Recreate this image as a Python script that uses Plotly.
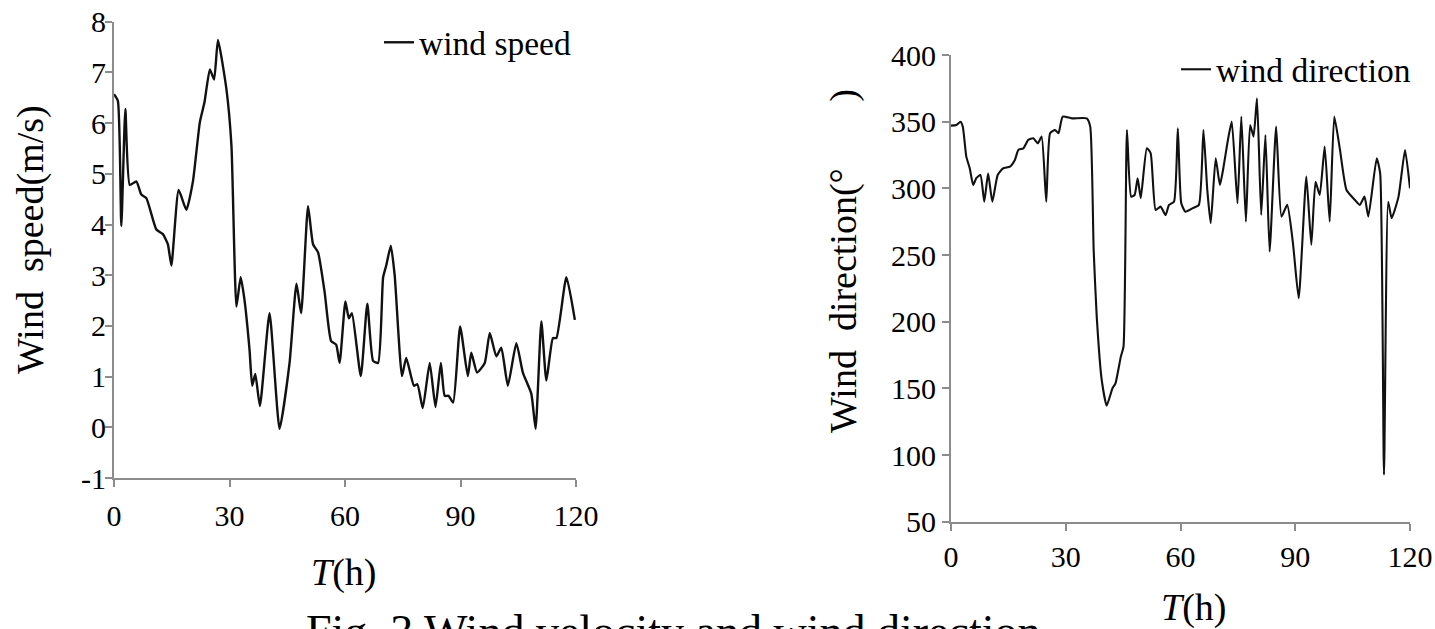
import plotly.graph_objects as go

W, H = 1435, 629

# ---- data ----
speed_t = [0, 1.0, 1.9, 2.95, 4.1, 5.8, 7.1, 8.4, 11.0, 12.7, 14.0, 14.9, 16.8, 18.8, 20.5, 22.3,
           23.5, 24.9, 26.0, 27.0, 29.2, 30.5, 31.8, 32.9, 33.9, 35.2, 35.9, 36.7, 37.9, 40.4,
           43.0, 45.6, 47.4, 48.6, 50.4, 51.7, 53.0, 54.7, 56.4, 57.7, 58.6, 60.1, 61.0, 61.8,
           64.1, 65.8, 67.3, 68.6, 69.9, 70.7, 71.9, 72.9, 74.8, 75.9, 77.9, 78.8, 80.2, 82.0,
           83.5, 84.9, 85.9, 86.9, 88.1, 89.9, 91.9, 92.8, 94.3, 96.3, 97.6, 99.3, 100.6, 102.3,
           104.5, 106.2, 108.4, 109.5, 111.0, 112.3, 114.0, 114.9, 117.5, 119.7]
speed_v = [6.57, 6.44, 3.97, 6.28, 4.78, 4.85, 4.59, 4.52, 3.9, 3.81, 3.61, 3.19, 4.68, 4.29, 4.85,
           6.02, 6.41, 7.06, 6.86, 7.64, 6.67, 5.56, 2.38, 2.96, 2.51, 1.53, 0.82, 1.05, 0.42,
           2.25, -0.03, 1.27, 2.83, 2.25, 4.36, 3.61, 3.45, 2.67, 1.70, 1.63, 1.27, 2.48, 2.15,
           2.25, 1.01, 2.44, 1.31, 1.27, 2.96, 3.19, 3.58, 3.0, 1.01, 1.37, 0.82, 0.85, 0.38,
           1.27, 0.40, 1.27, 0.62, 0.62, 0.49, 1.99, 1.01, 1.47, 1.08, 1.27, 1.86, 1.40, 1.57,
           0.82, 1.66, 1.08, 0.66, -0.03, 2.09, 0.92, 1.76, 1.76, 2.96, 2.12]

dir_t = [0, 1.4, 2.5, 3.1, 4.0, 4.9, 5.8, 6.6, 7.7, 8.7, 9.7, 10.8, 12.2, 13.6, 15.4, 16.7, 17.6,
         18.9, 20.2, 21.5, 22.7, 23.7, 24.9, 25.9, 27.2, 28.1, 29.2, 31.6, 35.5, 36.4, 37.3, 38.1,
         39.4, 40.7, 42.2, 43.0, 44.4, 45.1, 46.0, 47.1, 48.0, 48.8, 49.6, 51.2, 52.2, 53.5, 54.8,
         56.1, 57.0, 58.3, 59.3, 60.2, 61.3, 63.1, 64.8, 66.0, 67.0, 67.9, 69.2, 70.3, 71.2, 72.4,
         73.4, 74.9, 75.9, 77.1, 78.2, 79.1, 80.0, 81.1, 82.2, 83.3, 85.0, 86.4, 87.9, 89.4, 90.9,
         92.9, 94.2, 95.3, 96.4, 97.7, 99.0, 100.2, 101.7, 103.4, 105.6, 106.9, 108.1, 109.1,
         111.3, 112.2, 113.2, 114.3, 115.2, 117.0, 118.7, 120.0]
dir_v = [347, 347.5, 350, 346, 323.8, 315, 302.5, 307.6, 310, 290, 311.3, 290, 310, 315, 316.3,
         321.3, 328.8, 330, 336.3, 337.5, 333.8, 338.8, 290, 341.3, 343.8, 341.3, 353.8, 352.5,
         352.5, 346.3, 253.8, 203.8, 156.3, 137, 150, 153.8, 173.8, 181.3, 343.8, 293.8, 295,
         307.6, 292.6, 330, 326.3, 283.8, 286.3, 280, 287.6, 290, 345, 288.8, 282.5, 285, 287.6,
         343.8, 298.8, 273.8, 322.6, 302.6, 315.1, 336.3, 350, 288.8, 353.8, 275, 347.5, 338.8,
         367.5, 280, 340, 252.6, 346.3, 278.8, 287.6, 258.8, 217.6, 308.8, 257.6, 305, 295,
         331.3, 275, 353.8, 328.8, 298.8, 291.3, 287.6, 293.8, 278.8, 322.6, 311.3, 85.2, 290,
         277.6, 293.8, 328.8, 300]

x_ticks = [0, 30, 60, 90, 120]
speed_ticks = [-1, 0, 1, 2, 3, 4, 5, 6, 7, 8]
speed_tick_labels = ["-1", "0", "1", "2", "3", "4", "5", "6", "7", "8"]
dir_ticks = [50, 100, 150, 200, 250, 300, 350, 400]

FONT = "Liberation Serif, Times New Roman, serif"
AXIS_GRAY = "#8c8c8c"


def px(x):
    return x / W


def py(y):
    return 1 - y / H


fig = go.Figure()
fig.add_trace(go.Scatter(x=speed_t, y=speed_v, mode="lines", name="wind speed",
                         line=dict(color="#111111", width=2.4, shape="spline", smoothing=0.5),
                         xaxis="x", yaxis="y", legend="legend"))
fig.add_trace(go.Scatter(x=dir_t, y=dir_v, mode="lines", name="wind direction",
                         line=dict(color="#111111", width=2.1, shape="spline", smoothing=0.5),
                         xaxis="x2", yaxis="y2", legend="legend2"))

axis_common = dict(showgrid=False, zeroline=False, showline=True, linecolor=AXIS_GRAY,
                   linewidth=2, ticks="outside", ticklen=7, tickwidth=1.5, tickcolor=AXIS_GRAY,
                   automargin=False, ticklabeloverflow="allow",
                   tickfont=dict(family=FONT, size=30, color="black"))

fig.update_layout(
    width=W, height=H,
    margin=dict(l=0, r=0, t=0, b=0, autoexpand=False),
    paper_bgcolor="white", plot_bgcolor="white",
    xaxis=dict(domain=[px(114), px(576)], range=[0, 120], tickvals=x_ticks, anchor="y",
               ticklabelstandoff=3, **axis_common),
    yaxis=dict(domain=[py(478), py(21.7)], range=[-1, 8], tickvals=speed_ticks,
               ticktext=speed_tick_labels, anchor="x", ticklabelstandoff=-7, **axis_common),
    xaxis2=dict(domain=[px(951), px(1410)], range=[0, 120], tickvals=x_ticks, anchor="y2",
                ticklabelstandoff=0, **axis_common),
    yaxis2=dict(domain=[py(521.7), py(55)], range=[50, 400], tickvals=dir_ticks, anchor="x2",
                ticklabelstandoff=0, **axis_common),
    legend=dict(x=px(379), y=py(14), xanchor="left", yanchor="top",
                font=dict(family=FONT, size=33.5, color="black"), bgcolor="rgba(0,0,0,0)"),
    legend2=dict(x=px(1176), y=py(41), xanchor="left", yanchor="top",
                 font=dict(family=FONT, size=33.5, color="black"), bgcolor="rgba(0,0,0,0)"),
    showlegend=True,
)

title_font = dict(family=FONT, size=38, color="black")
fig.add_annotation(text="Wind  speed(m/s)", x=px(30), y=py(240), xref="paper", yref="paper",
                   xanchor="center", yanchor="middle",
                   textangle=-90, showarrow=False, font=title_font)
fig.add_annotation(text="Wind  direction(°       )", x=px(843), y=py(261), xref="paper",
                   yref="paper", xanchor="center", yanchor="middle",
                   textangle=-90, showarrow=False, font=title_font)
fig.add_annotation(text="<i>T</i>(h)", x=px(343), y=py(572), xref="paper", yref="paper",
                   xanchor="center", yanchor="middle", showarrow=False, font=title_font)
fig.add_annotation(text="<i>T</i>(h)", x=px(1193), y=py(607), xref="paper", yref="paper",
                   xanchor="center", yanchor="middle", showarrow=False, font=title_font)
fig.add_annotation(text="Fig. 3 Wind velocity and wind direction", x=px(673), y=py(604),
                   xref="paper", yref="paper", xanchor="center", yanchor="top",
                   showarrow=False, font=dict(family=FONT, size=46, color="black"))

# remove the default page margin so the figure fills the 1435x629 window exactly
fig.write_html("out.html", config={"displayModeBar": False},
               post_script="document.body.style.margin='0';document.body.style.overflow='hidden';")
